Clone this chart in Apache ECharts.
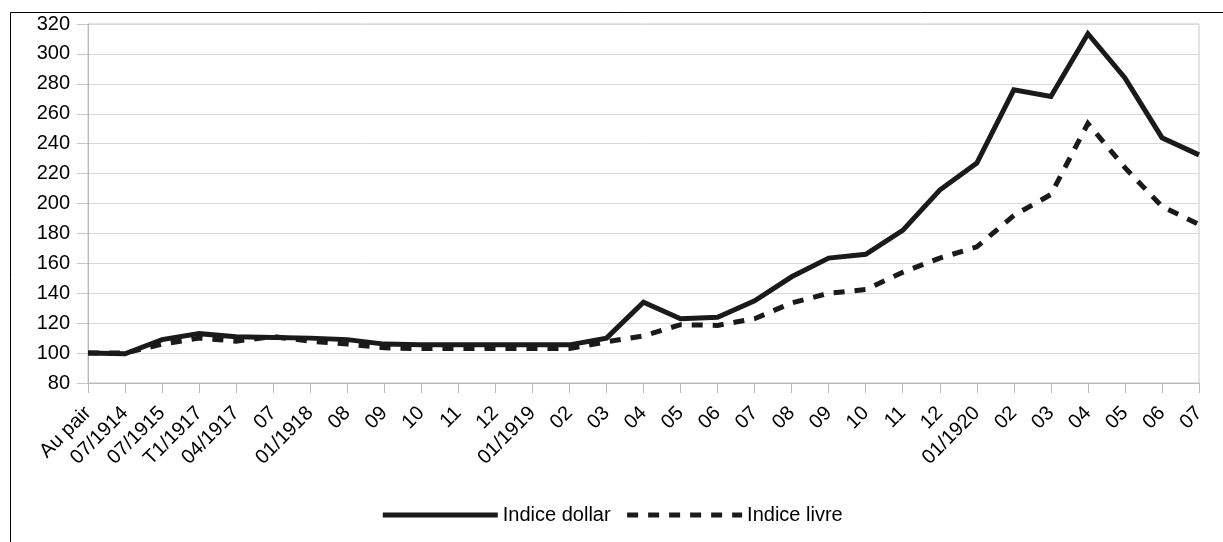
<!DOCTYPE html>
<html>
<head>
<meta charset="utf-8">
<script src="https://cdn.jsdelivr.net/npm/echarts@6/dist/echarts.min.js"></script>
<style>
  html, body { margin: 0; padding: 0; background: #fff; }
  #chart { width: 1223px; height: 542px; }
</style>
</head>
<body>
<div id="chart"></div>
<script>
// Month labels along the x axis
const categories = [
  'Au pair', '07/1914', '07/1915', 'T1/1917', '04/1917', '07', '01/1918', '08', '09', '10',
  '11', '12', '01/1919', '02', '03', '04', '05', '06', '07', '08',
  '09', '10', '11', '12', '01/1920', '02', '03', '04', '05', '06', '07'
];

// Index against the dollar (parity = 100)
const indiceDollar = [
  100, 99.5, 109, 113, 111, 110.5, 110, 109, 106, 105.5,
  105.5, 105.5, 105.5, 105.5, 110, 134, 123, 124, 135, 151,
  163.5, 166, 182, 209, 227, 276, 271.5, 313.5, 284, 244, 232.5
];

// Index against the pound (parity = 100)
const indiceLivre = [
  100, 100, 106, 110, 108, 111, 108, 106, 103.5, 103,
  103, 103, 103, 103, 107.5, 111.5, 119, 118.5, 123, 133.5,
  140, 142.5, 154, 163.5, 171, 192, 206, 253.5, 224, 198, 186
];

// Value axis ticks
const yMin = 80;
const yMax = 320;
const yStep = 20;

const seriesNames = ['Indice dollar', 'Indice livre'];

const FONT = '"Liberation Sans", Arial, sans-serif';
const INK = '#1a1a1a';
const chart = echarts.init(document.getElementById('chart'));

chart.setOption({
  animation: false,
  backgroundColor: '#ffffff',
  graphic: [{
    type: 'rect',
    silent: true,
    shape: { x: 10.5, y: 12.5, width: 1240, height: 560 },
    style: { fill: 'none', stroke: '#000000', lineWidth: 1 }
  }],
  grid: {
    left: 88, right: 24, top: 24, bottom: 159,
    show: true, borderColor: '#c8c8c8', borderWidth: 1, backgroundColor: 'transparent'
  },
  legend: {
    bottom: 12,
    left: 'center',
    itemWidth: 115,
    itemHeight: 12,
    itemGap: 14,
    lineStyle: { width: 5 },
    itemStyle: { color: 'rgba(0,0,0,0)', borderWidth: 0 },
    textStyle: { fontFamily: FONT, fontSize: 20, color: '#000' },
    data: seriesNames
  },
  xAxis: {
    type: 'category',
    data: categories,
    boundaryGap: false,
    axisLine: { lineStyle: { color: '#b8b8b8', width: 1 } },
    axisTick: { show: true, length: 10, alignWithLabel: true, lineStyle: { color: '#b8b8b8' } },
    axisLabel: {
      interval: 0, rotate: 45, margin: 27,
      fontFamily: FONT, fontSize: 20, color: '#000'
    },
    splitLine: { show: false }
  },
  yAxis: {
    type: 'value',
    min: yMin, max: yMax, interval: yStep,
    axisLine: { show: true, lineStyle: { color: '#b8b8b8' } },
    axisTick: { show: true, length: 11, lineStyle: { color: '#c8c8c8' } },
    axisLabel: { margin: 18, fontFamily: FONT, fontSize: 20, color: '#000' },
    splitLine: { show: true, lineStyle: { color: '#d9d9d9', width: 1 } }
  },
  series: [
    {
      name: seriesNames[0],
      type: 'line',
      data: indiceDollar,
      symbol: 'none',
      lineStyle: { color: INK, width: 5, cap: 'butt', join: 'miter' },
      itemStyle: { color: INK }
    },
    {
      name: seriesNames[1],
      type: 'line',
      data: indiceLivre,
      symbol: 'none',
      lineStyle: { color: INK, width: 5, type: [11, 10], cap: 'butt', join: 'miter' },
      itemStyle: { color: INK }
    }
  ]
});
</script>
</body>
</html>
